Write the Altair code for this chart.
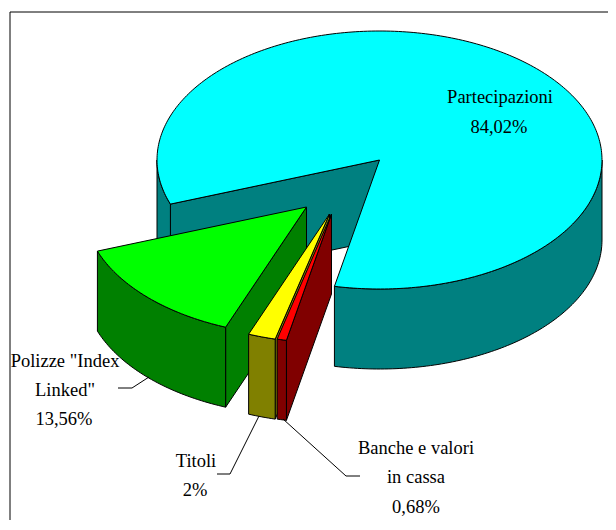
import math
import altair as alt

# Values
labels = ["Partecipazioni", "Banche e valori in cassa", "Titoli", 'Polizze "Index Linked"']
shares = [84.02, 0.68, 2.0, 13.56]
top_colors = ["#00FFFF", "#FF0000", "#FFFF00", "#00FF00"]
wall_colors = ["#008080", "#800000", "#808000", "#008000"]
apex_offsets = [(0, 0), (-48, 54), (-50, 54), (-73, 47)]

label_lines = ["Partecipazioni", "84,02%", 'Polizze "Index', 'Linked"', "13,56%",
               "Titoli", "2%", "Banche e valori", "in cassa", "0,68%"]
label_x = [492, 491, 57, 57, 56, 188, 187, 408, 408, 408]
label_y = [95, 125, 359, 388, 417, 459, 488, 446, 475, 505]

leader_paths = [
    [(110, 380), (124, 380), (141, 369)],
    [(209, 466), (222, 466), (251, 408)],
    [(275, 411), (338, 468), (352, 468)],
]
frame_path = [(2, 530), (2, 4), (608, 4)]

# Pie layout
CX, CY, RX, RY, DEPTH = 371.5, 152, 222.5, 129, 80
START = 160.0


def rim(i, t):
    a = math.radians(t)
    ox, oy = apex_offsets[i]
    return (CX + ox + RX * math.cos(a), CY + oy + RY * math.sin(a))


def apex(i):
    return (CX + apex_offsets[i][0], CY + apex_offsets[i][1])


def down(p):
    return (p[0], p[1] + DEPTH)


def arc(i, t0, t1):
    n = max(2, int(abs(t1 - t0)) + 1)
    return [rim(i, t0 + (t1 - t0) * k / n) for k in range(n + 1)]


def poly(points, fill):
    pts = [list(p) for p in points]
    pts.append(pts[0])
    return {"type": "Feature", "properties": {"fill": fill},
            "geometry": {"type": "Polygon", "coordinates": [pts]}}


def line(points):
    return {"type": "Feature", "properties": {},
            "geometry": {"type": "LineString", "coordinates": [list(p) for p in points]}}


total = sum(shares)
bounds = []
t = START
for s in shares:
    span = s / total * 360
    bounds.append((t, t + span))
    t += span

shapes = []
# Partecipazioni: walls, then top
t0, t1 = bounds[0]
shapes.append(poly([rim(0, t0), apex(0), down(apex(0)), down(rim(0, t0))], wall_colors[0]))
left = arc(0, t0, 180)
shapes.append(poly(left + [down(p) for p in reversed(left)], wall_colors[0]))
right = arc(0, 360, t1)
shapes.append(poly(right + [down(p) for p in reversed(right)], wall_colors[0]))
shapes.append(poly(arc(0, t0, t1) + [apex(0)], top_colors[0]))

# Exploded slices, back to front
for i in [3, 2, 1]:
    t0, t1 = bounds[i]
    outer = arc(i, t0, t1)
    shapes.append(poly([rim(i, t0), apex(i), down(apex(i)), down(rim(i, t0))], wall_colors[i]))
    shapes.append(poly(outer + [down(p) for p in reversed(outer)], wall_colors[i]))
    shapes.append(poly(outer + [apex(i)], top_colors[i]))

identity = dict(type="identity", scale=1, translate=[0, 0])

frame_layer = (
    alt.Chart(alt.Data(values=[line(frame_path)]))
    .mark_geoshape(filled=False, stroke="black", strokeWidth=1)
    .project(**identity)
)
shape_layer = (
    alt.Chart(alt.Data(values=shapes))
    .mark_geoshape(stroke="black", strokeWidth=1)
    .encode(fill=alt.Fill("properties.fill:N", scale=None))
    .project(**identity)
)
leader_layer = (
    alt.Chart(alt.Data(values=[line(p) for p in leader_paths]))
    .mark_geoshape(filled=False, stroke="black", strokeWidth=1)
    .project(**identity)
)
text_rows = [{"t": a, "lon": b, "lat": c} for a, b, c in zip(label_lines, label_x, label_y)]
text_layer = (
    alt.Chart(alt.Data(values=text_rows))
    .mark_text(font="Liberation Serif", fontSize=18.5, color="black", align="center", baseline="alphabetic")
    .encode(longitude="lon:Q", latitude="lat:Q", text="t:N")
    .project(**identity)
)

chart = alt.layer(frame_layer, shape_layer, leader_layer, text_layer).properties(
    width=600, height=512, padding=0, background="white",
    autosize=alt.AutoSizeParams(type="none"),
).configure_view(stroke=None)

chart.save("out.html", embed_options={"renderer": "svg", "actions": False})
